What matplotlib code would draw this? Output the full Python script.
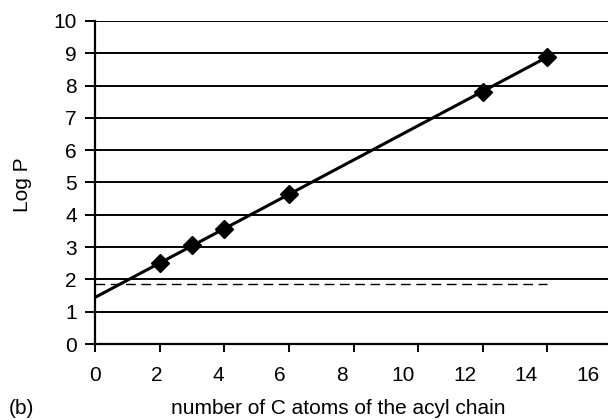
import numpy as np
import matplotlib
matplotlib.use("Agg")
import matplotlib.pyplot as plt
import matplotlib.transforms as mtransforms

plt.rcParams['font.family'] = ['Liberation Sans', 'DejaVu Sans']

# carbon atoms in the acyl chain and measured log P
n_carbon = [2, 3, 4, 6, 12, 14]
log_p = [2.5, 3.05, 3.55, 4.65, 7.8, 8.9]

# reference level (dashed)
ref_x = [0, 14]
ref_y = [1.85, 1.85]

x_ticks = [0, 2, 4, 6, 8, 10, 12, 14, 16]
y_ticks = list(range(0, 11))

fs = 15

fig = plt.figure(figsize=(6.08, 4.2), dpi=100)
ax = fig.add_axes([95/608, 1 - 344/420, 517/608, 323/420])

# grid lines at each integer
for yv in y_ticks:
    ax.axhline(yv, color='black', lw=1.4, zorder=1)

# linear trend line from x=0 to the last point
slope, intercept = np.polyfit(n_carbon, log_p, 1)
fit_x = np.array([0, n_carbon[-1]])
ax.plot(fit_x, slope * fit_x + intercept, color='black', lw=2.2, zorder=3)

ax.plot(n_carbon, log_p, linestyle='none', marker='D', color='black',
        markersize=9, zorder=4)

ax.plot(ref_x, ref_y, color='black', lw=1.0, dashes=(7, 4), zorder=2)

ax.set_xlim(0, 16)
ax.set_ylim(0, 10)
ax.set_xticks(x_ticks)
ax.set_yticks(y_ticks)
ax.tick_params(axis='x', direction='out', length=6, width=1.4, pad=10, labelsize=fs)
ax.tick_params(axis='y', direction='out', length=7, width=1.4, pad=6, labelsize=fs)

# the x tick labels in the original drift slightly left of their ticks
for v, lab in zip(x_ticks, ax.get_xticklabels()):
    shift = mtransforms.ScaledTranslation(-1.5 * v / 100, 0, fig.dpi_scale_trans)
    lab.set_transform(lab.get_transform() + shift)

for side in ['top', 'right']:
    ax.spines[side].set_visible(False)
for side in ['left', 'bottom']:
    ax.spines[side].set_linewidth(1.6)

fig.text(338/608, 1 - 408/420, 'number of C atoms of the acyl chain',
         ha='center', va='center', fontsize=fs)
fig.text(9/608, 1 - 408/420, '(b)', ha='left', va='center', fontsize=fs)
fig.text(23/608, 1 - 185/420, 'Log P', ha='center', va='center',
         rotation=90, fontsize=fs)

fig.savefig('out.png', dpi=100)
